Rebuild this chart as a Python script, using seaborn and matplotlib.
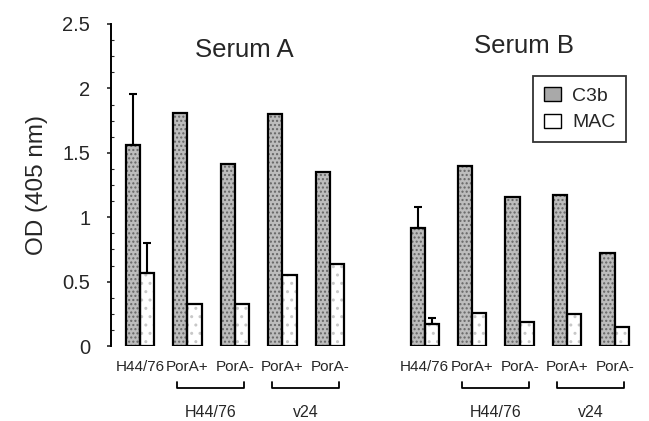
import numpy as np
import pandas as pd
import matplotlib
matplotlib.use("Agg")
import matplotlib.pyplot as plt
import matplotlib.transforms as mtrans
from matplotlib.patches import Patch, Rectangle
import seaborn as sns

# ---- data ----
sera = ["Serum A"] * 5 + ["Serum B"] * 5
strains = ["H44/76", "PorA+", "PorA-", "PorA+", "PorA-"] * 2
parents = ["", "H44/76", "H44/76", "v24", "v24"] * 2
c3b = [1.56, 1.81, 1.41, 1.80, 1.35, 0.92, 1.395, 1.16, 1.17, 0.72]
mac = [0.57, 0.33, 0.33, 0.55, 0.64, 0.17, 0.255, 0.19, 0.25, 0.15]
c3b_err = [0.40, 0, 0, 0, 0, 0.16, 0, 0, 0, 0]
mac_err = [0.23, 0, 0, 0, 0, 0.05, 0, 0, 0, 0]
reagents = ["C3b", "MAC"]

keys = [f"{s}|{p}|{st}" for s, p, st in zip(sera, parents, strains)]
order = keys[:5] + ["gap"] + keys[5:]

rows = []
for k, a, b in zip(keys, c3b, mac):
    rows.append({"slot": k, "reagent": "C3b", "od": a})
    rows.append({"slot": k, "reagent": "MAC", "od": b})
df = pd.DataFrame(rows)

sns.set_style("white")
plt.rcParams["font.family"] = ["Liberation Sans", "DejaVu Sans"]

fig = plt.figure(figsize=(6.49, 4.21), dpi=100)
ax = fig.add_axes([0.171, 0.178, 0.82, 0.765])

sns.barplot(data=df, x="slot", y="od", hue="reagent", order=order,
            hue_order=reagents, width=0.6, errorbar=None, ax=ax, legend=False)

errs = {"C3b": dict(zip(keys, c3b_err)), "MAC": dict(zip(keys, mac_err))}
styles = {"C3b": dict(fc="#bdbdbd", hatch="....", hc="#666666"),
          "MAC": dict(fc="white", hatch="..", hc="#c8c8c8")}

for reagent, cont in zip(reagents, ax.containers):
    st = styles[reagent]
    for bar in cont:
        cx = bar.get_x() + bar.get_width() / 2
        idx = int(round(cx))
        key = order[idx]
        bar.set_facecolor(st["fc"])
        bar.set_hatch(st["hatch"])
        bar.set_edgecolor(st["hc"])
        bar.set_linewidth(0)
        ax.add_patch(Rectangle(bar.get_xy(), bar.get_width(), bar.get_height(),
                               fill=False, ec="black", lw=1.6, zorder=3))
        e = errs[reagent].get(key, 0)
        if e > 0:
            ax.errorbar(cx, bar.get_height(), yerr=[[0], [e]], fmt="none",
                        ecolor="black", elinewidth=1.5, capsize=3, capthick=1.5,
                        zorder=4)

ax.set_xlim(-0.61, 10.6)
ax.set_ylim(0, 2.5)
ax.set_yticks([0, 0.5, 1, 1.5, 2, 2.5])
ax.set_yticklabels(["0", "0.5", "1", "1.5", "2", "2.5"], fontsize=14.5)
ax.set_yticks(np.arange(0, 2.51, 0.125), minor=True)
ax.tick_params(axis="y", which="major", direction="out", length=3, width=1.2,
               pad=12, left=True)
ax.tick_params(axis="y", which="minor", direction="in", length=2, width=0.8,
               left=True)
ax.set_xticks(range(len(order)))
ax.set_xticklabels([k.split("|")[2] if k != "gap" else "" for k in order],
                   fontsize=11)
ax.tick_params(axis="x", length=0, pad=10)
ax.set_xlabel("")
ax.set_ylabel("OD (405 nm)", fontsize=17.5, labelpad=10)
for s in ["top", "right", "bottom"]:
    ax.spines[s].set_visible(False)
ax.spines["left"].set_color("black")
ax.spines["left"].set_linewidth(1.4)

# serum titles
ax.text(2.2, 2.30, "Serum A", ha="center", va="center", fontsize=18.5)
ax.text(8.1, 2.33, "Serum B", ha="center", va="center", fontsize=18.5)

# brackets and group labels
trans = mtrans.blended_transform_factory(ax.transData, ax.transAxes)
for i, j, lab in [(1, 2, "H44/76"), (3, 4, "v24"), (7, 8, "H44/76"), (9, 10, "v24")]:
    x0, x1 = i - 0.22, j + 0.2
    ax.plot([x0, x0, x1, x1], [-0.112, -0.13, -0.13, -0.112], color="black",
            lw=1.3, transform=trans, clip_on=False)
    ax.text((x0 + x1) / 2, -0.205, lab, ha="center", va="center", fontsize=11.5,
            transform=trans)

handles = [Patch(facecolor="#a9a9a9", edgecolor="black", lw=1.0, label="C3b"),
           Patch(facecolor="white", edgecolor="black", lw=1.0, label="MAC")]
leg = fig.legend(handles=handles, loc="upper right",
                 bbox_to_anchor=(0.965, 0.819), fontsize=14, frameon=True,
                 fancybox=False, edgecolor="black", handlelength=0.85,
                 handleheight=0.75, handletextpad=0.6, borderpad=0.55,
                 labelspacing=0.45, borderaxespad=0)
leg.get_frame().set_linewidth(1.3)

fig.savefig("out.png", dpi=100, facecolor="white")
